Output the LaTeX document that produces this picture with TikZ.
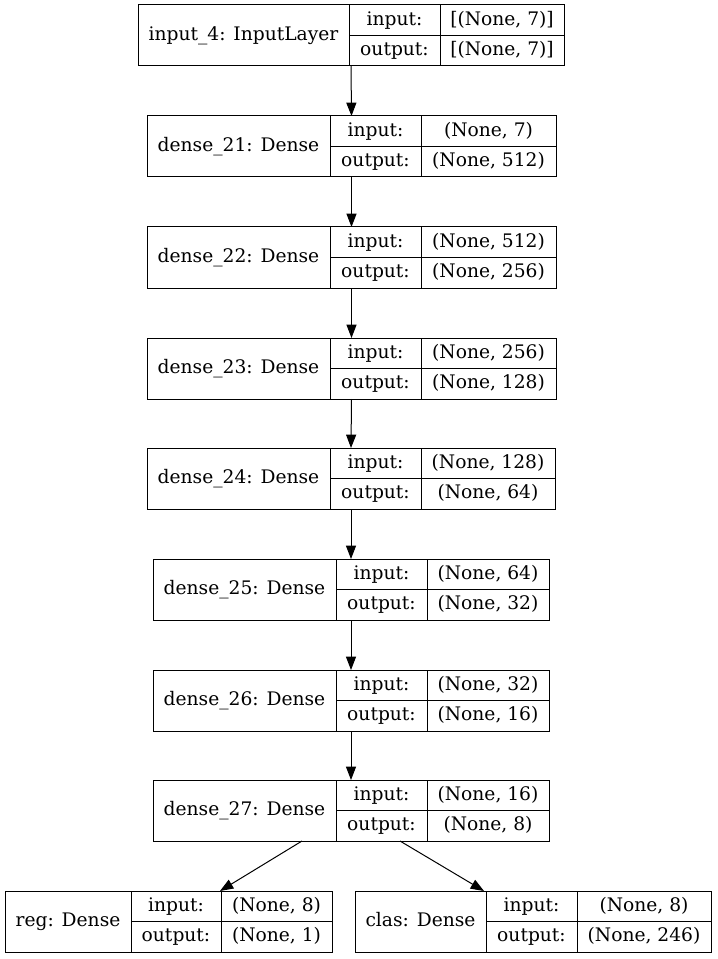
\documentclass[tikz,border=0pt]{standalone}
\usepackage{fontspec}
\setmainfont{DejaVu Serif}
\usetikzlibrary{arrows.meta,fit}
\tikzset{
  boxline/.style={draw=black,line width=0.75pt},
  layerbox/.style={boxline,rectangle,inner sep=0pt,outer sep=0pt},
  txt/.style={inner sep=0pt,anchor=center,text height=10.5pt,text depth=3pt,font=\fontsize{14pt}{16pt}\selectfont},
  arr/.style={draw=black,line width=0.75pt,-{Triangle[length=10pt,width=7.5pt]}}
}
% #1 name, #2 x0, #3 d1, #4 d2, #5 x1, #6 ytop, #7 label, #8 in, #9 out
\newcommand{\klayer}[9]{%
  \coordinate (#1-tl) at (#2,#6);
  \coordinate (#1-br) at (#5,{#6+61});
  \node[layerbox,fit=(#1-tl)(#1-br)] (#1) {};
  \draw[boxline] (#3,#6) -- (#3,{#6+61});
  \draw[boxline] (#4,#6) -- (#4,{#6+61});
  \draw[boxline] (#3,{#6+30.5}) -- (#5,{#6+30.5});
  \node[txt] (#1-lab) at ({(#2+#3)/2},{#6+30.5}) {#7};
  \node[txt] (#1-ik) at ({(#3+#4)/2},{#6+15.25}) {input:};
  \node[txt] (#1-ok) at ({(#3+#4)/2},{#6+45.75}) {output:};
  \node[txt] (#1-iv) at ({(#4+#5)/2},{#6+15.25}) {#8};
  \node[txt] (#1-ov) at ({(#4+#5)/2},{#6+45.75}) {#9};
}
\begin{document}
\begin{tikzpicture}[x=0.75pt,y=-0.75pt]
\useasboundingbox (0,0) rectangle (717,959);
\klayer{in4}{138}{349}{440}{564}{5}{input\_4: InputLayer}{[(None, 7)]}{[(None, 7)]}
\klayer{d21}{147}{330}{421}{556}{116}{dense\_21: Dense}{(None, 7)}{(None, 512)}
\klayer{d22}{147}{330}{421}{556}{227}{dense\_22: Dense}{(None, 512)}{(None, 256)}
\klayer{d23}{147}{330}{421}{556}{338}{dense\_23: Dense}{(None, 256)}{(None, 128)}
\klayer{d24}{147}{330}{421}{555}{448}{dense\_24: Dense}{(None, 128)}{(None, 64)}
\klayer{d25}{153}{336}{427}{549}{559}{dense\_25: Dense}{(None, 64)}{(None, 32)}
\klayer{d26}{153}{336}{427}{549}{670}{dense\_26: Dense}{(None, 32)}{(None, 16)}
\klayer{d27}{153}{336}{427}{549}{780}{dense\_27: Dense}{(None, 16)}{(None, 8)}
\klayer{reg}{5}{131}{221}{332}{891}{reg: Dense}{(None, 8)}{(None, 1)}
\klayer{clas}{355}{486}{577}{711}{891}{clas: Dense}{(None, 8)}{(None, 246)}
\draw[arr] (in4.south) -- (d21.north);
\draw[arr] (d21.south) -- (d22.north);
\draw[arr] (d22.south) -- (d23.north);
\draw[arr] (d23.south) -- (d24.north);
\draw[arr] (d24.south) -- (d25.north);
\draw[arr] (d25.south) -- (d26.north);
\draw[arr] (d26.south) -- (d27.north);
\draw[arr] ([xshift=-36.75pt]d27.south) -- ([xshift=38.6pt]reg.north);
\draw[arr] ([xshift=36.75pt]d27.south) -- ([xshift=-36.75pt]clas.north);
\end{tikzpicture}
\end{document}
